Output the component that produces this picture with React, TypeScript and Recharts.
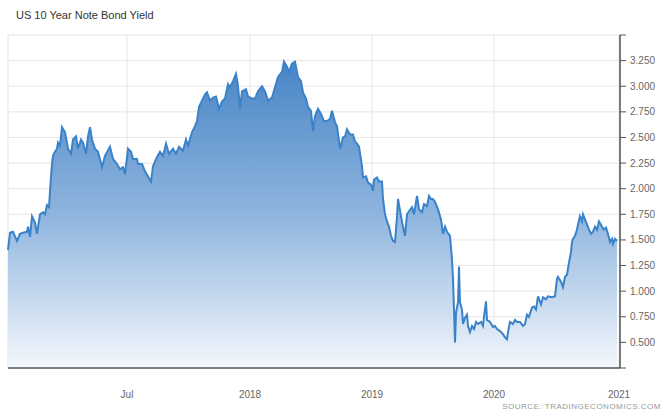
import { AreaChart, Area, XAxis, YAxis, CartesianGrid } from 'recharts';

// time index along the series (arbitrary session units) and the yield at each one
const T = [
  0, 2, 5, 9, 12, 15, 19, 20, 22, 24, 27, 29, 32, 35, 37, 39, 41, 43, 44, 45, 47, 49, 50, 52, 54, 57,
  60, 63, 65, 68, 70, 73, 75, 78, 80, 82, 84, 87, 90, 94, 97, 102, 105, 109, 112, 115, 117, 120, 123,
  125, 129, 130, 134, 137, 140, 143, 145, 149, 152, 155, 158, 161, 165, 168, 171, 175, 178, 180, 184,
  187, 189, 191, 194, 197, 199, 202, 205, 208, 211, 214, 217, 220, 222, 225, 228, 230, 232, 234, 238,
  240, 244, 247, 250, 254, 257, 260, 264, 267, 270, 274, 276, 279, 281, 284, 287, 290, 293, 295, 298,
  300, 303, 305, 307, 310, 313, 316, 319, 322, 324, 327, 329, 332, 335, 337, 339, 342, 345, 347, 349,
  351, 354, 355, 358, 360, 363, 365, 366, 369, 371, 374, 375, 377, 379, 381, 383, 385, 387, 389, 390,
  393, 395, 397, 399, 401, 404, 406, 409, 411, 414, 416, 419, 421, 423, 425, 427, 430, 433, 435, 437,
  439, 442, 444, 445, 446, 447, 448, 450, 451, 452, 454, 455, 457, 459, 460, 462, 464, 466, 468, 470,
  473, 475, 476, 478, 479, 482, 485, 487, 489, 492, 495, 497, 499, 500, 502, 505, 507, 509, 512, 515,
  517, 519, 521, 524, 526, 528, 530, 533, 535, 538, 540, 544, 547, 549, 550, 553, 555, 557, 559, 561,
  563, 564, 565, 567, 569, 570, 572, 574, 575, 577, 579, 581, 583, 585, 587, 589, 591, 594, 596, 598,
  600, 602, 604, 605, 607, 609,
];

const YIELD = [
  1.4, 1.57, 1.58, 1.49, 1.56, 1.57, 1.58, 1.63, 1.53, 1.73, 1.67, 1.56, 1.75, 1.77, 1.75, 1.84, 1.82,
  2.12, 2.24, 2.32, 2.36, 2.39, 2.45, 2.42, 2.6, 2.55, 2.39, 2.34, 2.48, 2.51, 2.39, 2.48, 2.45, 2.34,
  2.51, 2.6, 2.48, 2.39, 2.36, 2.21, 2.32, 2.41, 2.29, 2.24, 2.19, 2.21, 2.14, 2.39, 2.36, 2.29, 2.29,
  2.24, 2.24, 2.17, 2.12, 2.07, 2.22, 2.31, 2.36, 2.32, 2.44, 2.34, 2.39, 2.34, 2.41, 2.37, 2.48, 2.42,
  2.55, 2.61, 2.66, 2.8, 2.86, 2.92, 2.94, 2.86, 2.89, 2.9, 2.78, 2.85, 2.88, 3.02, 2.99, 3.05, 3.12,
  3.0, 2.78, 2.95, 2.97, 2.9, 2.88, 2.88, 2.95, 3.0, 2.95, 2.86, 2.89, 2.99, 3.09, 3.14, 3.24, 3.19,
  3.14, 3.22, 3.24, 3.09, 3.05, 2.94, 2.88, 2.8, 2.76, 2.56, 2.71, 2.78, 2.73, 2.66, 2.66, 2.68, 2.76,
  2.65, 2.61, 2.39, 2.5, 2.51, 2.58, 2.53, 2.53, 2.46, 2.44, 2.41, 2.22, 2.11, 2.12, 2.06, 2.04, 1.98,
  2.09, 2.11, 2.07, 2.07, 1.9, 1.75, 1.68, 1.63, 1.54, 1.49, 1.48, 1.73, 1.9, 1.73, 1.63, 1.54, 1.75,
  1.78, 1.82, 1.75, 1.93, 1.8, 1.77, 1.85, 1.83, 1.93, 1.9, 1.9, 1.87, 1.8, 1.7, 1.56, 1.63, 1.58, 1.54,
  1.31, 1.12, 0.82, 0.5, 0.79, 0.89, 1.24, 0.89, 0.82, 0.68, 0.74, 0.77, 0.66, 0.6, 0.66, 0.63, 0.7,
  0.68, 0.7, 0.66, 0.75, 0.9, 0.72, 0.7, 0.65, 0.66, 0.63, 0.61, 0.58, 0.55, 0.53, 0.6, 0.7, 0.68, 0.72,
  0.7, 0.7, 0.66, 0.68, 0.77, 0.75, 0.84, 0.85, 0.82, 0.95, 0.87, 0.94, 0.92, 0.95, 0.94, 0.95, 1.12,
  1.14, 1.09, 1.04, 1.14, 1.16, 1.28, 1.38, 1.48, 1.51, 1.54, 1.6, 1.65, 1.73, 1.68, 1.75, 1.7, 1.65,
  1.6, 1.56, 1.58, 1.63, 1.6, 1.68, 1.63, 1.6, 1.62, 1.56, 1.48, 1.51, 1.46, 1.51, 1.49,
];

const X_TICKS = [119, 242, 364, 486, 611];
const X_LABELS = ['Jul', '2018', '2019', '2020', '2021'];
const Y_TICKS = [0.25, 0.5, 0.75, 1, 1.25, 1.5, 1.75, 2, 2.25, 2.5, 2.75, 3, 3.25, 3.5];

const LINE_COLOR = '#3a82c9';
const FONT = '"Liberation Sans", Arial, sans-serif';

const data = T.map((t, i) => ({ t, y: YIELD[i] }));

export default function App() {
  return (
    <div style={{ position: 'absolute', left: 0, top: 0, width: 663, height: 414, background: '#fff', overflow: 'hidden', fontFamily: FONT }}>
      <div style={{ position: 'absolute', left: 16, top: 9, fontSize: 11, color: '#333' }}>
        US 10 Year Note Bond Yield
      </div>

      <AreaChart width={663} height={414} data={data} margin={{ top: 35, right: 0, left: 8, bottom: 0 }}>
        <defs>
          <linearGradient id="yieldFill" x1="0" y1="0" x2="0" y2="1">
            <stop offset="0%" stopColor="#4885c6" />
            <stop offset="50%" stopColor="#8fb5de" />
            <stop offset="100%" stopColor="#f3f7fc" />
          </linearGradient>
        </defs>
        <CartesianGrid stroke="#e6e6e6" strokeWidth={1} />
        <XAxis
          type="number"
          dataKey="t"
          domain={[0, 612]}
          ticks={X_TICKS}
          tickFormatter={(v) => X_LABELS[X_TICKS.indexOf(v)] ?? ''}
          height={46}
          axisLine={{ stroke: '#555', strokeWidth: 1.5 }}
          tickLine={false}
          tickMargin={17}
          tick={{ fontSize: 10, fill: '#666', fontFamily: FONT }}
        />
        <YAxis
          orientation="right"
          type="number"
          domain={[0.25, 3.5]}
          ticks={Y_TICKS}
          interval={0}
          width={43}
          tickFormatter={(v) => (v === 0.25 || v === 3.5 ? '' : v.toFixed(3))}
          axisLine={{ stroke: '#555', strokeWidth: 1.5 }}
          tickLine={{ stroke: '#555' }}
          tickSize={6}
          tickMargin={4}
          tick={{ fontSize: 10, fill: '#666', fontFamily: FONT, textAnchor: 'start' }}
        />
        <Area
          type="linear"
          dataKey="y"
          baseValue={0.25}
          stroke={LINE_COLOR}
          strokeWidth={2}
          fill="url(#yieldFill)"
          fillOpacity={1}
          dot={false}
          activeDot={false}
          isAnimationActive={false}
        />
      </AreaChart>

      <div style={{ position: 'absolute', right: 2, top: 402, fontSize: 8, lineHeight: '10px', color: '#999', letterSpacing: 0.5 }}>
        SOURCE: TRADINGECONOMICS.COM
      </div>
    </div>
  );
}
